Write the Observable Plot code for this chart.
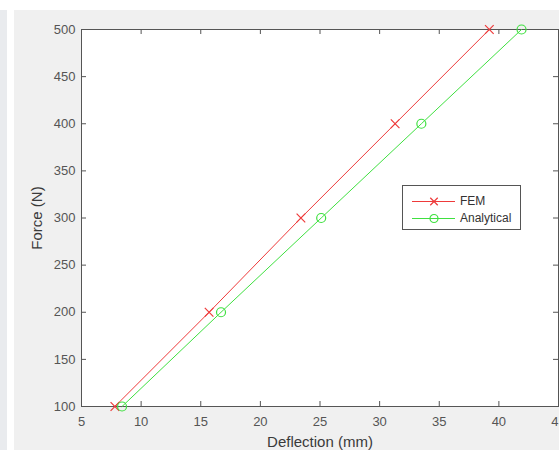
<!DOCTYPE html>
<html>
<head>
<meta charset="utf-8">
<script src="https://cdn.jsdelivr.net/npm/d3@7"></script>
<script src="https://cdn.jsdelivr.net/npm/@observablehq/plot@0.6"></script>
<style>
  html, body { margin: 0; padding: 0; background: #ffffff; width: 559px; height: 450px; overflow: hidden; }
  #strip { position: absolute; left: 0; top: 10px; width: 7px; height: 440px; background: #e9ebee; }
  #fig { position: absolute; left: 14px; top: 10px; width: 545px; height: 440px; background: #f0f0f0; overflow: hidden; }
  #legend { position: absolute; left: 402px; top: 185px; width: 117px; height: 43px; background: #fff; border: 1px solid #555;
            font-family: "Liberation Sans", Arial, sans-serif; font-size: 12px; color: #333; }
  .row { position: absolute; left: 0; height: 16px; width: 117px; }
  .row svg { position: absolute; left: 9px; top: 0; }
  .row span { position: absolute; left: 57px; top: 1px; }
</style>
</head>
<body>
<div id="strip"></div>
<div id="fig"></div>
<div id="legend"></div>
<script>
const forces = [100, 200, 300, 400, 500];
const femDeflection = [7.8, 15.7, 23.4, 31.3, 39.2];
const analyticalDeflection = [8.4, 16.7, 25.1, 33.5, 41.9];
const xTicks = [5, 10, 15, 20, 25, 30, 35, 40, 45];
const yTicks = [100, 150, 200, 250, 300, 350, 400, 450, 500];
const seriesNames = ["FEM", "Analytical"];
const seriesColors = ["#ee3a3a", "#3fe040"];

const fem = forces.map((f, i) => ({x: femDeflection[i], y: f}));
const ana = forces.map((f, i) => ({x: analyticalDeflection[i], y: f}));

const W = 545, H = 440;
const mL = 67, mR = 1, mT = 19, mB = 44;
const iw = W - mL - mR, ih = H - mT - mB;
const tk = 5;
const axisColor = "#555";

const chart = Plot.plot({
  width: W, height: H,
  marginLeft: mL, marginRight: mR, marginTop: mT, marginBottom: mB,
  style: {background: "transparent", fontFamily: "'Liberation Sans', Arial, sans-serif", fontSize: "13px", color: "#4a4a4a", overflow: "hidden"},
  x: {domain: [5, 45]},
  y: {domain: [100, 500]},
  marks: [
    Plot.frame({fill: "white", stroke: null}),
    Plot.tickX(xTicks, {x: d => d, stroke: axisColor, insetTop: ih - tk}),
    Plot.tickX(xTicks, {x: d => d, stroke: axisColor, insetBottom: ih - tk}),
    Plot.tickY(yTicks, {y: d => d, stroke: axisColor, insetRight: iw - tk}),
    Plot.tickY(yTicks, {y: d => d, stroke: axisColor, insetLeft: iw - tk}),
    Plot.frame({stroke: axisColor}),
    Plot.axisX(xTicks, {tickSize: 0, tickPadding: 10, label: null, fontSize: 13, fill: "#555"}),
    Plot.axisY(yTicks, {tickSize: 0, tickPadding: 6, label: null, fontSize: 13, fill: "#555"}),
    Plot.axisX([], {tickSize: 0, label: "Deflection (mm)", labelAnchor: "center", labelOffset: 40, labelArrow: "none", fontSize: 15, fill: "#3a3a3a"}),
    Plot.axisY([], {tickSize: 0, label: "Force (N)", labelAnchor: "center", labelOffset: 50, labelArrow: "none", fontSize: 15, fill: "#3a3a3a"}),
    Plot.line(fem, {x: "x", y: "y", stroke: seriesColors[0], strokeWidth: 1}),
    Plot.dot(fem, {x: "x", y: "y", stroke: seriesColors[0], symbol: "times", r: 4, strokeWidth: 1.2}),
    Plot.line(ana, {x: "x", y: "y", stroke: seriesColors[1], strokeWidth: 1}),
    Plot.dot(ana, {x: "x", y: "y", stroke: seriesColors[1], symbol: "circle", r: 4.5, fill: "none", strokeWidth: 1.2})
  ]
});
document.getElementById("fig").appendChild(chart);

// Legend
const legend = document.getElementById("legend");
const symbols = ["times", "circle"];
seriesNames.forEach((name, i) => {
  const row = document.createElement("div");
  row.className = "row";
  row.style.top = (7 + i * 17) + "px";
  const sw = Plot.plot({
    width: 43, height: 16, margin: 0,
    style: {background: "transparent", overflow: "visible"},
    x: {domain: [0, 1], axis: null},
    y: {domain: [0, 1], axis: null},
    marks: [
      Plot.ruleY([0.5], {x1: 0, x2: 1, stroke: seriesColors[i], strokeWidth: 1}),
      Plot.dot([{x: 0.5, y: 0.5}], {x: "x", y: "y", stroke: seriesColors[i], symbol: symbols[i], r: i ? 4 : 3.5, fill: "none", strokeWidth: 1.2})
    ]
  });
  row.appendChild(sw);
  const t = document.createElement("span");
  t.textContent = name;
  row.appendChild(t);
  legend.appendChild(row);
});
</script>
</body>
</html>
